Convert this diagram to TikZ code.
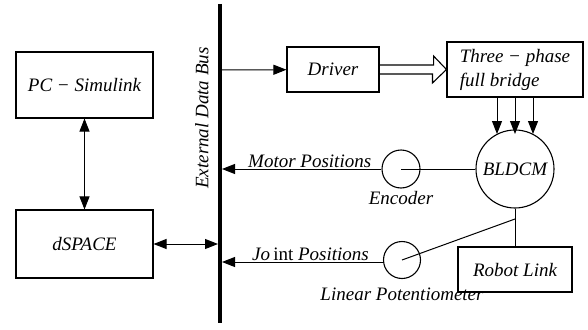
\documentclass[tikz,border=0pt]{standalone}
\usepackage{fontspec}
\setmainfont{Liberation Serif}
\usetikzlibrary{arrows.meta,positioning}

\begin{document}
\begin{tikzpicture}[
  x=1pt, y=-1pt,
  every node/.style={font=\fontsize{19}{21}\selectfont\itshape},
  box/.style={rectangle, draw, line width=1.1pt, inner sep=0pt},
  circ/.style={circle, draw, line width=1.1pt, inner sep=0pt},
  arrow/.style={-{Triangle[length=13pt,width=10pt]}, line width=1pt},
  dblarrow/.style={{Triangle[length=13pt,width=10pt]}-{Triangle[length=13pt,width=10pt]}, line width=1pt},
  wire/.style={line width=1pt},
  label/.style={inner sep=1pt}
]
\useasboundingbox (0,0) rectangle (588,329);

%% Left column: host side
\node[box, minimum width=137pt, minimum height=66pt] (pc) at (84.5,85) {PC − Simulink};
\node[box, minimum width=137pt, minimum height=68pt] (ds) at (84.5,244) {dSPACE};
\draw[dblarrow] (pc) -- (ds);

%% Bus
\coordinate (bus-top) at (220,4);
\coordinate (bus-bot) at (220,323);
\draw[line width=4pt] (bus-top) -- (bus-bot);
\node[label, rotate=90] (bus-lbl) at (202,118) {External Data Bus};
\coordinate (bus-ds) at (218,244);
\coordinate (bus-drv) at (220,70);
\coordinate (bus-enc) at (222,169);
\coordinate (bus-pot) at (222,262);
\draw[dblarrow] (ds) -- (bus-ds);

%% Power stage
\node[box, minimum width=92pt, minimum height=45pt] (drv) at (333,69.5) {Driver};
\node[box, minimum width=136pt, minimum height=55pt, align=left] (bridge) at (515,69.5)
  {Three − phase\\[3pt]full bridge};
\draw[arrow] (bus-drv) -- (drv);

% hollow arrow Driver -> bridge
\draw[line width=1.1pt, line join=miter]
  ([yshift=4.5pt]drv.east) -- ++(54,0) -- ++(0,-9) -- (bridge.west)
  -- ++(-14,13.5) -- ++(0,-9) -- ([yshift=-4.5pt]drv.east);

%% Motor
\node[circ, minimum size=78pt] (motor) at (515,169) {BLDCM};
\foreach \dx in {-18,0,18}
  \draw[arrow] ([xshift=\dx pt]bridge.south) -- ([xshift=\dx pt]bridge.south |- 0,134);

%% Encoder
\node[circ, minimum size=38pt] (enc) at (401,169) {};
\node[label, below=2pt of enc] (enc-lbl) {Encoder};
\draw[wire] (enc.center) -- (motor.west);
\draw[arrow] (enc.west) -- (bus-enc)
  node[label, pos=0.45, above] (mot-lbl) {Motor Positions};

%% Robot link and potentiometer
\node[box, minimum width=114pt, minimum height=45pt] (link) at (515,269.5) {Robot Link};
\node[circ, minimum size=37pt] (pot) at (402,260) {};
\node[label, below=8pt of pot] (pot-lbl) {Linear Potentiometer};
\coordinate (tap) at (515,219);
\draw[wire] (motor.south) -- (link.north);
\draw[wire] (pot.center) -- (tap);
\draw[arrow] (pot.west |- bus-pot) -- (bus-pot)
  node[label, pos=0.45, above] (jnt-lbl) {Jo\,{\upshape int} Positions};

\end{tikzpicture}
\end{document}
